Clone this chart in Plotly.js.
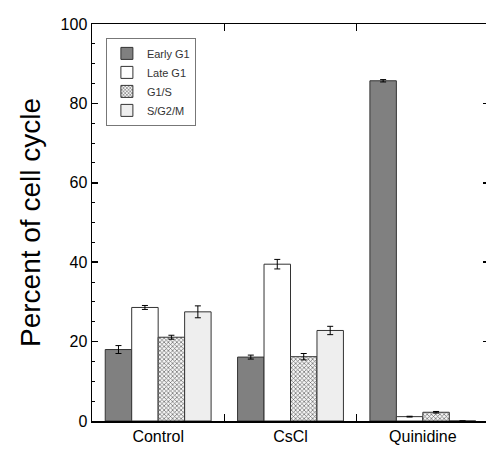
<!DOCTYPE html>
<html><head><meta charset="utf-8">
<script src="https://cdn.plot.ly/plotly-3.0.1.min.js"></script>
<style>html,body{margin:0;padding:0;overflow:hidden;background:#fff;width:486px;height:450px}</style>
</head><body><div id="chart"></div>
<script>
const categories = ["Control", "CsCl", "Quinidine"];
const earlyG1 = [18.0, 16.1, 85.7];
const earlyG1Err = [1.0, 0.5, 0.3];
const lateG1 = [28.6, 39.5, 1.1];
const lateG1Err = [0.5, 1.2, 0.1];
const g1s = [21.1, 16.2, 2.2];
const g1sErr = [0.5, 0.8, 0.2];
const sg2m = [27.5, 22.8, 0];
const sg2mErr = [1.5, 1.05, 0];
const yTicks = [0, 20, 40, 60, 80, 100];

function errStyle(arr){ return {type:'data', array:arr, visible:true, color:'#000', thickness:1, width:3}; }

const traces = [
  {type:'bar', name:'Early G1', x:categories, y:earlyG1, error_y:errStyle(earlyG1Err),
   marker:{color:'#808080', line:{color:'#333', width:1}}},
  {type:'bar', name:'Late G1', x:categories, y:lateG1, error_y:errStyle(lateG1Err),
   marker:{color:'#ffffff', line:{color:'#333', width:1}}},
  {type:'bar', name:'G1/S', x:categories, y:g1s, error_y:errStyle(g1sErr),
   marker:{color:'#ffffff', line:{color:'#333', width:1},
     pattern:{shape:'x', size:3, solidity:0.4, fgcolor:'#666', bgcolor:'#f4f4f4'}}},
  {type:'bar', name:'S/G2/M', x:categories, y:sg2m, error_y:errStyle(sg2mErr),
   marker:{color:'#eeeeee', line:{color:'#333', width:1}}}
];

const layout = {
  width: 490, height: 450,
  margin:{l:92, r:1, t:24, b:29},
  paper_bgcolor:'#fff', plot_bgcolor:'#fff',
  barmode:'group', bargap:0.2, bargroupgap:0,
  font:{family:'Liberation Sans, Arial, sans-serif', color:'#000'},
  showlegend:true,
  legend:{x:0.035, y:0.965, xanchor:'left', yanchor:'top',
    bgcolor:'#fff', bordercolor:'#777', borderwidth:1,
    font:{size:11, color:'#333'}, tracegroupgap:0, itemwidth:30},
  xaxis:{type:'category', range:[-0.5, 2.5], tickson:'boundaries',
    ticks:'inside', ticklen:7, tickwidth:1, tickcolor:'#000',
    showline:true, linecolor:'#000', linewidth:1.5, mirror:'ticks',
    showgrid:false, zeroline:false, tickfont:{size:16}},
  yaxis:{range:[0, 100], tickvals:yTicks, ticks:'inside', ticklen:6, tickwidth:1.5, tickcolor:'#000',
    minor:{dtick:5, ticks:'inside', ticklen:3, tickwidth:1, tickcolor:'#000', showgrid:false},
    showline:true, linecolor:'#000', linewidth:1.5, mirror:'ticks',
    showgrid:false, zeroline:false, tickfont:{size:16},
    title:{text:'Percent of cell cycle', font:{size:28}, standoff:12}}
};

Plotly.newPlot('chart', traces, layout, {displayModeBar:false, staticPlot:true});
</script></body></html>
